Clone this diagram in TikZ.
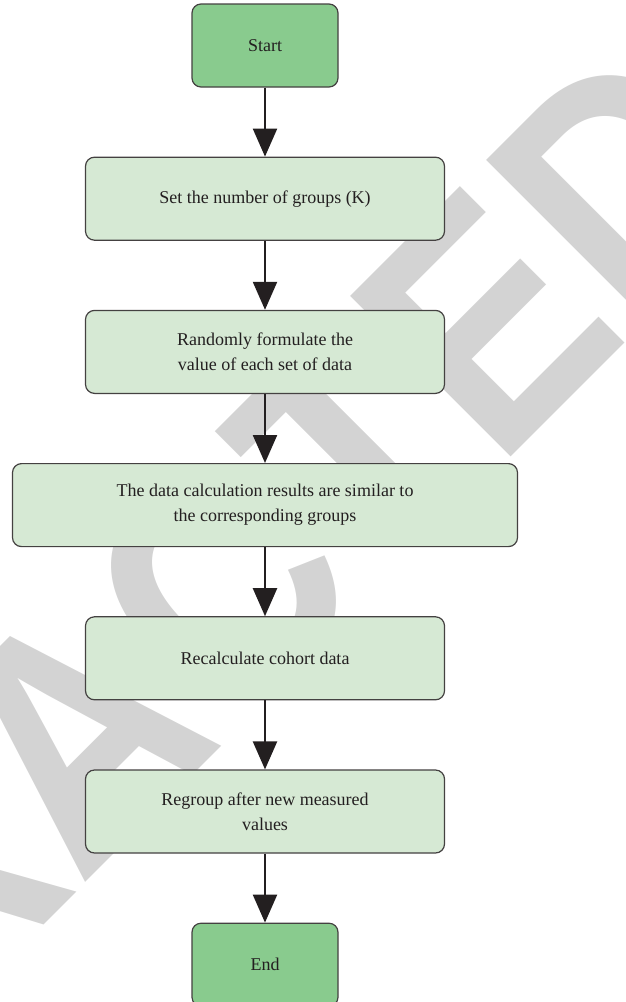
\documentclass[tikz,border=0pt]{standalone}
\usepackage{fontspec}
\usepackage{graphicx}
\setmainfont{Liberation Serif}
\newfontfamily\stampfont{Liberation Sans}
\usetikzlibrary{arrows.meta,positioning}
\definecolor{leafdark}{RGB}{137,203,142}
\definecolor{leaflight}{RGB}{214,233,212}
\definecolor{ink}{RGB}{35,31,32}
\definecolor{stamp}{RGB}{211,211,211}
\tikzset{
  >={Triangle[length=28pt,width=24pt]},
  stepbox/.style={draw=ink!85,fill=#1,rounded corners=9pt,line width=1.2pt,
    minimum height=83pt,minimum width=359pt,align=center,text=ink,
    font=\fontsize{18}{25}\selectfont},
  stepbox/.default=leaflight,
  terminal/.style={stepbox=leafdark,minimum width=146pt},
  flow/.style={->,line width=2.3pt,draw=ink},
}

\begin{document}
\begin{tikzpicture}[x=1pt,y=-1pt]
  \useasboundingbox (0,0) rectangle (626,1002);
  % retraction stamp behind the chart
  \begin{scope}
    \clip (0,0) rectangle (626,1002);
    \node[text=stamp,font=\stampfont\bfseries\fontsize{330}{330}\selectfont,
      rotate=45,anchor=base east,inner sep=0pt] (stamp) at (780,188) {\scalebox{0.87}[1]{RETRACTED}};
  \end{scope}
  \node[terminal] (start) at (265,45.5) {Start};
  \node[stepbox,below=69pt of start] (groups) {Set the number of groups (K)};
  \node[stepbox,below=69pt of groups] (random) {Randomly formulate the\\value of each set of data};
  \node[stepbox,below=69pt of random,minimum width=505pt] (similar) {The data calculation results are similar to\\the corresponding groups};
  \node[stepbox,below=69pt of similar] (recalc) {Recalculate cohort data};
  \node[stepbox,below=69pt of recalc] (regroup) {Regroup after new measured\\values};
  \node[terminal,below=69pt of regroup] (end) {End};
  \draw[flow] (start) -- (groups);
  \draw[flow] (groups) -- (random);
  \draw[flow] (random) -- (similar);
  \draw[flow] (similar) -- (recalc);
  \draw[flow] (recalc) -- (regroup);
  \draw[flow] (regroup) -- (end);
\end{tikzpicture}
\end{document}
